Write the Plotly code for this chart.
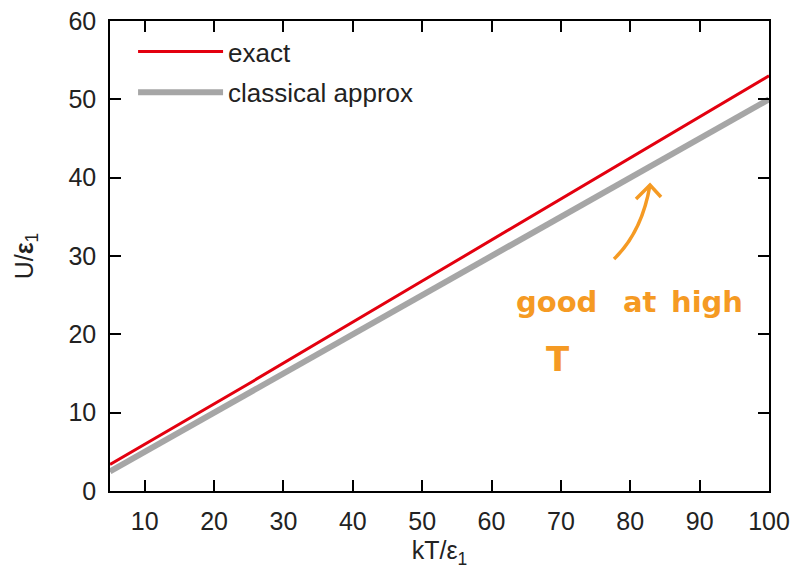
import plotly.graph_objects as go

# data
kT = [5, 25, 50, 75, 100]
U_exact = [3.4, 13.7, 26.8, 39.9, 53.0]
U_classical = [2.5, 12.5, 25.0, 37.5, 50.0]
x_ticks = [10, 20, 30, 40, 50, 60, 70, 80, 90, 100]
y_ticks = [0, 10, 20, 30, 40, 50, 60]

FONT = "Liberation Sans, Arial, sans-serif"
ORANGE = "#f59a23"

fig = go.Figure()
fig.add_trace(go.Scatter(x=kT, y=U_exact, mode="lines", name="exact", legendgroup="a",
                         line=dict(color="#e3000f", width=3)))
fig.add_trace(go.Scatter(x=kT, y=U_classical, mode="lines", name="classical approx", legendgroup="b",
                         line=dict(color="#a6a6a6", width=6)))

axis_common = dict(showline=True, linecolor="black", linewidth=1.5, mirror="ticks",
                   ticks="inside", ticklen=11, tickwidth=1.5, tickcolor="black",
                   showgrid=False, zeroline=False, ticklabelstandoff=7,
                   ticklabeloverflow="allow",
                   tickfont=dict(family=FONT, size=25, color="#222"))

# page body has an 8px offset: plot box target is x 110..769, y 21..491 on screen
fig.update_layout(
    width=799, height=576,
    margin=dict(l=102, r=38, t=13, b=93, autoexpand=False),
    plot_bgcolor="white", paper_bgcolor="white",
    font=dict(family=FONT, color="#222"),
    xaxis=dict(range=[5, 100], tickvals=x_ticks,
               title=dict(text="kT/ε<sub>1</sub>", font=dict(family=FONT, size=25), standoff=8),
               **axis_common),
    yaxis=dict(range=[0, 60], tickvals=y_ticks,
               title=dict(text="U/<b>ε</b><sub>1</sub>", font=dict(family=FONT, size=25), standoff=28),
               **axis_common),
    legend=dict(x=0.035, y=0.985, xanchor="left", yanchor="top", traceorder="grouped",
                bgcolor="rgba(0,0,0,0)", font=dict(family=FONT, size=26, color="#222"),
                tracegroupgap=4, itemwidth=85),
    showlegend=True,
)

# handwritten note (screen pixel centres from the reference)
hand = "DejaVu Sans, sans-serif"
for txt, x, y, sz in [("good", 556, 302, 29), ("at", 640, 302, 29), ("high", 707, 302, 29), ("T", 558, 359, 34)]:
    fig.add_annotation(text=f"<b>{txt}</b>", xref="paper", yref="paper", xanchor="center", yanchor="middle",
                       x=(x - 110) / (769 - 110), y=(491 - y) / (491 - 21),
                       showarrow=False, font=dict(family=hand, size=sz, color=ORANGE))

# curved arrow (screen pixel -> data)
def px2d(px, py):
    return 5 + (px - 110) / (769 - 110) * 95, (491 - py) / (491 - 21) * 60

s = px2d(614, 259); c = px2d(642, 232); t = px2d(650, 185)
l = px2d(636, 199); r = px2d(661, 197)
fig.add_shape(type="path", xref="x", yref="y",
              path=f"M {s[0]},{s[1]} Q {c[0]},{c[1]} {t[0]},{t[1]}",
              line=dict(color=ORANGE, width=3.5))
fig.add_shape(type="path", xref="x", yref="y",
              path=f"M {l[0]},{l[1]} L {t[0]},{t[1]} L {r[0]},{r[1]}",
              line=dict(color=ORANGE, width=3.5))

fig.write_html("out.html")
